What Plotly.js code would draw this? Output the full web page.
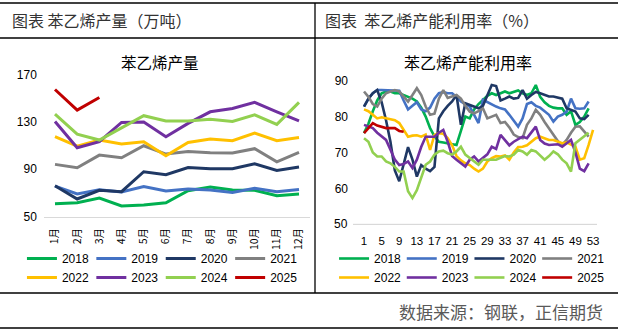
<!DOCTYPE html>
<html>
<head>
<meta charset="utf-8">
<script src="https://cdn.plot.ly/plotly-3.0.1.min.js"></script>
<style>
html,body{margin:0;padding:0;background:#fff;}
#chart{width:618px;height:331px;}
</style>
</head>
<body>
<div id="chart"></div>
<script>
// ---------- data ----------
const years = ['2018','2019','2020','2021','2022','2023','2024','2025'];
const colors = ['#00B050','#4472C4','#1F3864','#808080','#FFC000','#7030A0','#92D050','#C00000'];

const months = ['1月','2月','3月','4月','5月','6月','7月','8月','9月','10月','11月','12月'];
const prod2018 = [60.9,61.8,65.7,59.0,59.8,61.8,71.9,75.0,72.5,72.2,67.7,69.1];
const prod2019 = [75.8,69.1,72.7,70.8,75.5,71.6,73.3,72.5,70.5,73.9,71.1,73.0];
const prod2020 = [76.1,64.9,72.2,71.1,87.9,85.4,91.5,90.4,90.4,94.6,89.0,91.8];
const prod2021 = [94.1,91.3,101.9,99.7,109.8,102.8,105.0,103.9,103.6,107.3,96.3,104.2];
const prod2022 = [117.4,109.5,114.6,111.2,113.2,101.4,112.6,115.4,114.0,120.5,114.0,116.8];
const prod2023 = [130.3,108.1,113.2,129.4,129.7,117.4,128.6,138.4,141.2,146.3,138.4,130.8];
const prod2024 = [136.5,119.6,114.6,125.2,135.1,130.6,130.6,132.2,130.3,135.9,127.8,146.3];
const prod2025 = [157.2,139.8,150.5];
const prodTicks = [50,90,130,170];

const weeks = [];
for (let i = 1; i <= 53; i++) weeks.push(i);
const weekTicks = [1,5,9,13,17,21,25,29,33,37,41,45,49,53];
const util2018 = [75.4,78,81.5,84.5,86.5,87,87,86.5,86.5,86,85.5,85,84.2,82.5,80,76.8,74.5,73,72.8,72.6,72.3,72.1,76,80,79.5,82,83.5,84.8,85.8,86.5,86,86.5,87,86.5,86.8,87.3,86.5,86,86.5,88.8,85.5,84,83,82.5,82.3,82.3,80.5,81.5,77.7,78.5,80,82.3];
const util2019 = [82.8,85,86.5,87.4,87.4,87.4,87.4,87.4,87.2,84.5,82,83,84,82,81.5,82.5,85,86.5,86.8,86.5,86.5,85.5,84.2,83.5,82.8,80.5,78.2,84.7,84,83.5,82.8,82.3,82,80.5,79,77.2,79.5,83.5,84,83,82.5,81.5,80.5,78.6,80,80.5,81.4,85,82.3,82.2,82.3,84.2];
const util2020 = [82.8,85,86.5,87.4,84,79,73,65,62,67,71.5,68,63.3,66.5,65.5,64.8,66,79.5,81.5,83,84.2,86,77.7,83.7,83.2,82.8,82.3,83,86,88.8,88.5,84.5,85,85.6,85,85.2,87.4,85,86,86.9,86.5,86,85.6,85.6,85.3,85,82.3,81.8,81.4,79.5,79.3,80.5];
const util2021 = [87,85.5,83.5,82.8,85,86.5,87,87.4,87,85.5,84.2,86,87.9,86,82.8,80.5,80.8,85,87.4,85.2,85.5,86,85,83,81.4,80.9,81.5,82.3,79.5,80,80.5,78.2,78.5,77,75,74.3,74,77.7,79.5,81.9,80.5,78.5,76.8,75,73.2,72.1,73.5,75.5,77.2,77.3,76,74.4];
const util2022 = [82,81.5,80.5,79.5,79.8,79.5,79.2,79,78.2,76.3,74.4,74.7,74.8,74.4,75,70.7,74.9,75.4,75.2,74,72,69,67.8,67,66.5,65.5,64.7,65.5,67.5,68.4,69,68.9,69.2,68,70,71.5,71.6,72,73,74,74.4,74,73.5,73.5,73,72.6,72.8,72.3,71.6,68,68.4,72.1,76.3];
const util2023 = [77.7,77.3,76.8,75.5,74.5,73.5,70.8,68,66.5,66.8,67.5,65.7,68,71.6,74.4,74.5,74.4,75.5,76.3,73,69,68,67,66.1,68,68.9,67.5,68.4,69.5,71.6,71,74.9,73.5,72,73,73.8,74.4,74,75.5,77.2,73.5,72.5,72.1,72.1,72.3,71.6,72.5,73.5,70,65.5,64.8,67];
const util2024 = [74,73,70,68.9,68.9,67.5,67,66,64.7,64.7,59.2,57.3,59.5,63.3,66.6,67.5,69.4,70.3,70.5,69.8,69.4,70.3,71.6,69.4,68.5,67.5,66.6,68,68,68,68,68.5,69,68.9,69.4,70.7,70.3,69.4,70.7,70.3,69,68,69,70.3,69.5,68,67,64.7,72.6,73.6,74.4,75.5];
const util2025 = [75.4,76.8,78.2,77.5,77.2,76.8,76.8,76.8,76,75.8];
const utilTicks = [50,60,70,80,90];

// ---------- layout helpers (pixel placement) ----------
const W = 618, H = 331, ML = 22, MR = 13;
const PW = W - ML - MR;
const px = v => (v - ML) / PW;
const py = v => (H - v) / H;

const prodSeries = [prod2018,prod2019,prod2020,prod2021,prod2022,prod2023,prod2024,prod2025];
const utilSeries = [util2018,util2019,util2020,util2021,util2022,util2023,util2024,util2025];

const traces = [];
prodSeries.forEach((arr, i) => {
  traces.push({
    type: 'scatter', mode: 'lines', name: years[i],
    x: months.slice(0, arr.length), y: arr,
    xaxis: 'x', yaxis: 'y', legend: 'legend',
    line: {color: colors[i], width: 3},
    hoverinfo: 'skip'
  });
});
utilSeries.forEach((arr, i) => {
  traces.push({
    type: 'scatter', mode: 'lines', name: years[i],
    x: weeks.slice(0, arr.length), y: arr,
    xaxis: 'x2', yaxis: 'y2', legend: 'legend2',
    line: {color: colors[i], width: 2.6},
    hoverinfo: 'skip'
  });
});

const tickFont = {family: 'Liberation Sans, Arial, sans-serif', size: 12, color: '#000'};
const monthFont = {family: 'Noto Sans CJK SC, Liberation Sans, sans-serif', size: 10.5, color: '#000'};
const weekFont = {family: 'Liberation Sans, Arial, sans-serif', size: 11.5, color: '#000'};
const cjk = 'Noto Sans CJK SC, sans-serif';

// right value axis: 50 at 224.3px, 90 at 80.7px
const U_BOTTOM_PX = 224.3, U_TOP_PX = 80.7;

const lineStyle = {color: '#000', width: 1.3};
const annotations = [
  {xref: 'paper', yref: 'paper', x: px(10), y: py(20), xanchor: 'left', yanchor: 'middle', showarrow: false,
   text: '图表 苯乙烯产量（万吨）', font: {family: cjk, size: 16, color: '#333'}},
  {xref: 'paper', yref: 'paper', x: px(323), y: py(20), xanchor: 'left', yanchor: 'middle', showarrow: false,
   text: '图表  苯乙烯产能利用率（%）', font: {family: cjk, size: 16, color: '#333'}},
  {xref: 'paper', yref: 'paper', x: px(160), y: py(62), xanchor: 'center', yanchor: 'middle', showarrow: false,
   text: '苯乙烯产量', font: {family: cjk, size: 15.5, color: '#000'}},
  {xref: 'paper', yref: 'paper', x: px(468), y: py(62), xanchor: 'center', yanchor: 'middle', showarrow: false,
   text: '苯乙烯产能利用率', font: {family: cjk, size: 16, color: '#000'}},
  {xref: 'paper', yref: 'paper', x: px(605), y: py(311), xanchor: 'right', yanchor: 'middle', showarrow: false,
   text: '数据来源：钢联，正信期货', font: {family: cjk, size: 17, color: '#595959'}},
  // bottom tick label of the right value axis
  {xref: 'paper', yref: 'paper', x: px(349.5), y: py(U_BOTTOM_PX), xanchor: 'right', yanchor: 'middle',
   showarrow: false, text: String(utilTicks[0]), font: tickFont}
];

const layout = {
  width: W, height: H,
  margin: {l: ML, r: MR, t: 0, b: 0, autoexpand: false},
  paper_bgcolor: '#fff', plot_bgcolor: 'rgba(0,0,0,0)',
  showlegend: true,
  xaxis: {
    domain: [px(43.9), px(310.1)],
    type: 'category', categoryarray: months, range: [-0.5, 11.5],
    showgrid: false, zeroline: false,
    showline: true, linecolor: '#D9D9D9', linewidth: 1,
    ticks: '', tickangle: -90, tickfont: monthFont, ticklabelstandoff: 6,
    anchor: 'y'
  },
  yaxis: {
    domain: [py(216.7), py(74.3)],
    range: [50, 170], tickvals: prodTicks,
    showgrid: false, zeroline: false, showline: false,
    ticks: '', tickfont: tickFont, ticklabelstandoff: 6,
    anchor: 'x'
  },
  xaxis2: {
    domain: [px(353), px(597)],
    range: [-1.5, 53.9], tickvals: weekTicks,
    showgrid: false, zeroline: false,
    showline: true, linecolor: '#D9D9D9', linewidth: 1,
    ticks: '', tickangle: 0, tickfont: weekFont, ticklabelstandoff: 6,
    anchor: 'y2'
  },
  yaxis2: {
    domain: [py(U_BOTTOM_PX), py(U_TOP_PX)],
    range: [utilTicks[0], utilTicks[utilTicks.length - 1]], tickvals: utilTicks.slice(1),
    showgrid: false, zeroline: false, showline: false,
    ticks: '', tickfont: tickFont, ticklabelstandoff: 4,
    anchor: 'x2'
  },
  legend: {
    orientation: 'h', x: -0.0001, xanchor: 'left', y: py(244), yanchor: 'top',
    entrywidth: 24.4, entrywidthmode: 'pixels',
    font: tickFont, bgcolor: 'rgba(0,0,0,0)', borderwidth: 0,
    traceorder: 'normal'
  },
  legend2: {
    orientation: 'h', x: 1.0001, xanchor: 'right', y: py(244), yanchor: 'top',
    entrywidth: 22.7, entrywidthmode: 'pixels',
    font: tickFont, bgcolor: 'rgba(0,0,0,0)', borderwidth: 0,
    traceorder: 'normal'
  },
  shapes: [
    {type: 'line', xref: 'paper', yref: 'paper', x0: px(0), x1: px(618), y0: py(3), y1: py(3), line: lineStyle},
    {type: 'line', xref: 'paper', yref: 'paper', x0: px(0), x1: px(618), y0: py(38), y1: py(38), line: lineStyle},
    {type: 'line', xref: 'paper', yref: 'paper', x0: px(315), x1: px(315), y0: py(3), y1: py(293), line: lineStyle},
    {type: 'line', xref: 'paper', yref: 'paper', x0: px(0), x1: px(618), y0: py(293), y1: py(293), line: lineStyle},
    {type: 'line', xref: 'paper', yref: 'paper', x0: px(0), x1: px(618), y0: py(328), y1: py(328), line: lineStyle},
    {type: 'line', xref: 'paper', yref: 'paper', x0: px(353), x1: px(597), y0: py(U_BOTTOM_PX), y1: py(U_BOTTOM_PX),
     line: {color: '#D9D9D9', width: 1}, layer: 'below'}
  ],
  annotations: annotations
};

Plotly.newPlot('chart', traces, layout, {staticPlot: true, displayModeBar: false});
</script>
</body>
</html>
